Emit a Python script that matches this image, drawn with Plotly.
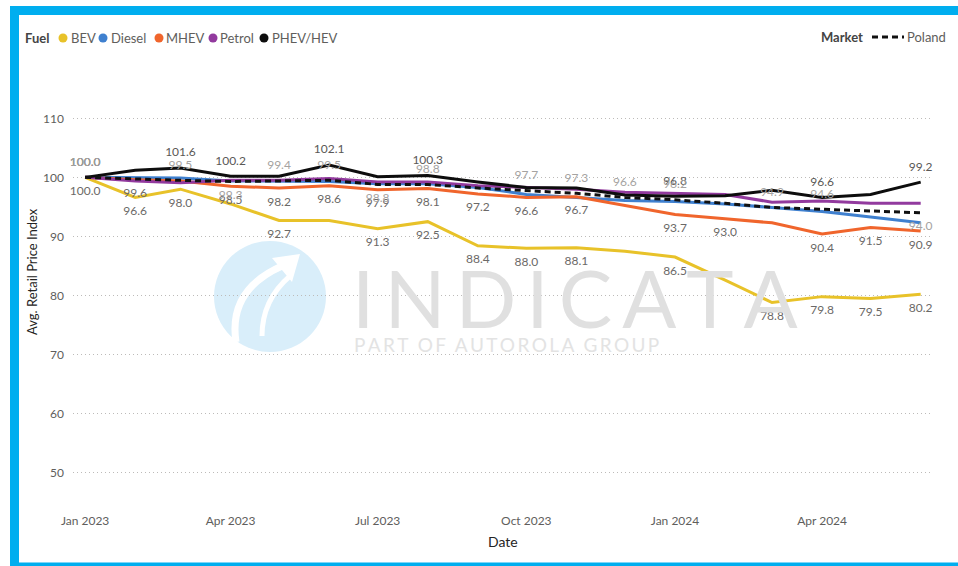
import plotly.graph_objects as go

# ---------------- data ----------------
months = ["2023-01-01", "2023-02-01", "2023-03-01", "2023-04-01", "2023-05-01", "2023-06-01",
          "2023-07-01", "2023-08-01", "2023-09-01", "2023-10-01", "2023-11-01", "2023-12-01",
          "2024-01-01", "2024-02-01", "2024-03-01", "2024-04-01", "2024-05-01", "2024-06-01"]

bev    = [100.0, 96.6, 98.0, 95.5, 92.7, 92.7, 91.3, 92.5, 88.4, 88.0, 88.1, 87.5, 86.5, 82.6, 78.8, 79.8, 79.5, 80.2]
diesel = [100.0, 100.0, 99.9, 99.4, 99.3, 99.3, 98.9, 98.9, 98.3, 97.1, 96.6, 96.1, 95.9, 95.5, 94.9, 94.2, 93.3, 92.3]
mhev   = [100.0, 99.6, 99.4, 98.5, 98.2, 98.6, 97.9, 98.1, 97.2, 96.6, 96.7, 95.2, 93.7, 93.0, 92.3, 90.4, 91.5, 90.9]
petrol = [100.0, 99.4, 99.1, 99.5, 99.5, 99.8, 99.2, 99.2, 98.6, 98.3, 98.0, 97.5, 97.3, 97.1, 95.8, 96.0, 95.6, 95.6]
phev   = [100.0, 101.2, 101.6, 100.2, 100.2, 102.1, 100.1, 100.3, 99.2, 98.3, 98.2, 97.0, 96.8, 96.9, 97.8, 96.6, 97.1, 99.2]
market = [100.0, 99.7, 99.5, 99.3, 99.4, 99.5, 98.8, 98.8, 98.2, 97.7, 97.3, 96.6, 96.2, 95.6, 94.9, 94.6, 94.3, 94.0]

# indices of months whose data label is visible in the reference
bev_lab_idx    = [0, 1, 2, 4, 6, 7, 8, 9, 10, 12, 14, 15, 16, 17]
mhev_lab_idx   = [1, 3, 4, 5, 6, 7, 8, 9, 10, 12, 13, 15, 16, 17]
phev_lab_idx   = [0, 2, 3, 5, 7, 12, 15, 17]
market_lab_idx = [0, 2, 3, 4, 5, 6, 7, 9, 10, 11, 12, 14, 15, 17]
market_below_idx = [3, 6, 17]

y_ticks = [50, 60, 70, 80, 90, 100, 110]
x_ticks = ["2023-01-01", "2023-04-01", "2023-07-01", "2023-10-01", "2024-01-01", "2024-04-01"]
x_tick_text = ["Jan 2023", "Apr 2023", "Jul 2023", "Oct 2023", "Jan 2024", "Apr 2024"]

fuel_names = ["BEV", "Diesel", "MHEV", "Petrol", "PHEV/HEV"]
colors = {"BEV": "#E8C229", "Diesel": "#3F80CF", "MHEV": "#F0652C", "Petrol": "#923A9E", "PHEV/HEV": "#0D0D0D"}

FONT = "Lato, 'Segoe UI', sans-serif"
LABEL_GREY = "#6B6967"
FADED_GREY = "#A5A3A1"

def labels(values, idx):
    return [f"{v:.1f}" if i in idx else "" for i, v in enumerate(values)]

fig = go.Figure()

series = [("BEV", bev, bev_lab_idx, "bottom center", LABEL_GREY),
          ("Diesel", diesel, [], "bottom center", LABEL_GREY),
          ("MHEV", mhev, mhev_lab_idx, "bottom center", LABEL_GREY),
          ("Petrol", petrol, [], "top center", LABEL_GREY),
          ("PHEV/HEV", phev, phev_lab_idx, "top center", "#5A5856")]

INVISIBLE_MARKER = dict(size=12, color="rgba(0,0,0,0)")

for name, vals, idx, pos, tcol in series:
    fig.add_trace(go.Scatter(
        x=months, y=vals, name=name, mode="lines+markers+text",
        line=dict(color=colors[name], width=3), marker=INVISIBLE_MARKER,
        text=labels(vals, idx), textposition=pos,
        textfont=dict(family=FONT, size=12, color=tcol),
        cliponaxis=False, showlegend=False))

fig.add_trace(go.Scatter(
    x=months, y=market, name="Poland", mode="lines+markers+text",
    line=dict(color="#111111", width=3, dash="6px,4px"), marker=INVISIBLE_MARKER,
    text=labels(market, market_lab_idx),
    textposition=["bottom center" if i in market_below_idx else "top center" for i in range(len(market))],
    textfont=dict(family=FONT, size=12, color=FADED_GREY),
    cliponaxis=False, showlegend=False))

# ---------------- layout geometry ----------------
W, H = 958, 566
L, R, T, B = 73, 26, 77, 58
PW, PH = W - L - R, H - T - B

def px(x):  # window pixel -> paper x
    return (x - L) / PW

def py(y):  # window pixel -> paper y
    return (H - B - y) / PH

shapes = []
annotations = []

# watermark logo
shapes.append(dict(type="circle", xref="paper", yref="paper",
                   x0=px(214), x1=px(326), y0=py(352), y1=py(241),
                   fillcolor="#D9EEFA", line=dict(width=0), layer="below"))
shapes.append(dict(type="path", xref="paper", yref="paper",
                   path=f"M {px(236)} {py(342)} Q {px(228)} {py(290)} {px(282)} {py(266)}",
                   line=dict(color="white", width=7), layer="below"))
shapes.append(dict(type="path", xref="paper", yref="paper",
                   path=f"M {px(262)} {py(336)} Q {px(262)} {py(300)} {px(290)} {py(276)}",
                   line=dict(color="white", width=5), layer="below"))
shapes.append(dict(type="path", xref="paper", yref="paper",
                   path=f"M {px(272)} {py(258)} L {px(300)} {py(254)} L {px(292)} {py(282)} Z",
                   fillcolor="white", line=dict(width=0), layer="below"))

HS = "\u200a\u200a"
annotations.append(dict(text=HS.join("INDICATA"), xref="paper", yref="paper",
                        x=px(350), y=py(297), xanchor="left", yanchor="middle", showarrow=False,
                        font=dict(family="Lato", size=80, color="#E0E0E0")))
annotations.append(dict(text="\u00a0\u00a0".join(HS.join(w) for w in ["PART", "OF", "AUTOROLA", "GROUP"]),
                        xref="paper", yref="paper",
                        x=px(352), y=py(345), xanchor="left", yanchor="middle", showarrow=False,
                        font=dict(family="Lato", size=19, color="#E3E3E3")))

# legend: Fuel
annotations.append(dict(text="<b>Fuel</b>", xref="paper", yref="paper", x=px(23), y=py(38),
                        xanchor="left", yanchor="middle", showarrow=False,
                        font=dict(family=FONT, size=13, color="#444444")))
legend_dot_x = [63, 103, 159, 213, 264]
legend_txt_x = [69, 109, 164, 218, 270]
for name, dx, tx in zip(fuel_names, legend_dot_x, legend_txt_x):
    shapes.append(dict(type="circle", xref="paper", yref="paper",
                       x0=px(dx - 4.5), x1=px(dx + 4.5), y0=py(38 + 4.5), y1=py(38 - 4.5),
                       fillcolor=colors[name], line=dict(width=0)))
    annotations.append(dict(text=name, xref="paper", yref="paper", x=px(tx), y=py(38),
                            xanchor="left", yanchor="middle", showarrow=False,
                            font=dict(family=FONT, size=13, color="#605E5C")))

# legend: Market
annotations.append(dict(text="<b>Market</b>", xref="paper", yref="paper", x=px(819), y=py(37),
                        xanchor="left", yanchor="middle", showarrow=False,
                        font=dict(family=FONT, size=13, color="#444444")))
shapes.append(dict(type="line", xref="paper", yref="paper",
                   x0=px(872), x1=px(904), y0=py(37), y1=py(37),
                   line=dict(color="#111111", width=3, dash="6px,4px")))
annotations.append(dict(text="Poland", xref="paper", yref="paper", x=px(905), y=py(37),
                        xanchor="left", yanchor="middle", showarrow=False,
                        font=dict(family=FONT, size=13, color="#605E5C")))

# axis titles
annotations.append(dict(text="Avg. Retail Price Index", xref="paper", yref="paper",
                        x=px(32), y=py(272), xanchor="center", yanchor="middle", textangle=-90,
                        showarrow=False, font=dict(family=FONT, size=13, color="#252423")))
annotations.append(dict(text="Date", xref="paper", yref="paper",
                        x=px(503), y=py(541), xanchor="center", yanchor="middle",
                        showarrow=False, font=dict(family=FONT, size=14, color="#252423")))

# blue frame (top, left, bottom) drawn as thick lines
BLUE = "#00AEEF"
shapes.append(dict(type="line", xref="paper", yref="paper", x0=px(10), x1=px(958), y0=py(10.5), y1=py(10.5),
                   line=dict(color=BLUE, width=9)))
shapes.append(dict(type="line", xref="paper", yref="paper", x0=px(14.5), x1=px(14.5), y0=py(566), y1=py(6),
                   line=dict(color=BLUE, width=9)))
shapes.append(dict(type="line", xref="paper", yref="paper", x0=px(10), x1=px(958), y0=py(564.5), y1=py(564.5),
                   line=dict(color=BLUE, width=4)))

fig.update_layout(
    width=W, height=H,
    margin=dict(l=L, r=R, t=T, b=B, autoexpand=False),
    paper_bgcolor="white", plot_bgcolor="white",
    showlegend=False,
    shapes=shapes, annotations=annotations,
    font=dict(family=FONT, size=12, color="#605E5C"),
)
fig.update_xaxes(
    type="date", range=["2022-12-24 12:00", "2024-06-08"],
    tickvals=x_ticks, ticktext=x_tick_text,
    showgrid=False, zeroline=False, showline=False, ticks="",
    tickfont=dict(family=FONT, size=12, color="#605E5C"),
    ticklabelstandoff=4,
)
fig.update_yaxes(
    range=[44, 117], tickvals=y_ticks,
    showgrid=True, gridcolor="#BDBBB9", griddash="1px,3px", gridwidth=1,
    zeroline=False, showline=False, ticks="",
    tickfont=dict(family=FONT, size=12, color="#605E5C"),
    ticklabelstandoff=8,
)

# remove the default 8px page margin so the 958x566 figure fills the window exactly
fig.write_html("out.html", config={"displayModeBar": False},
               post_script="document.body.style.margin='0';document.body.style.overflow='hidden';")
